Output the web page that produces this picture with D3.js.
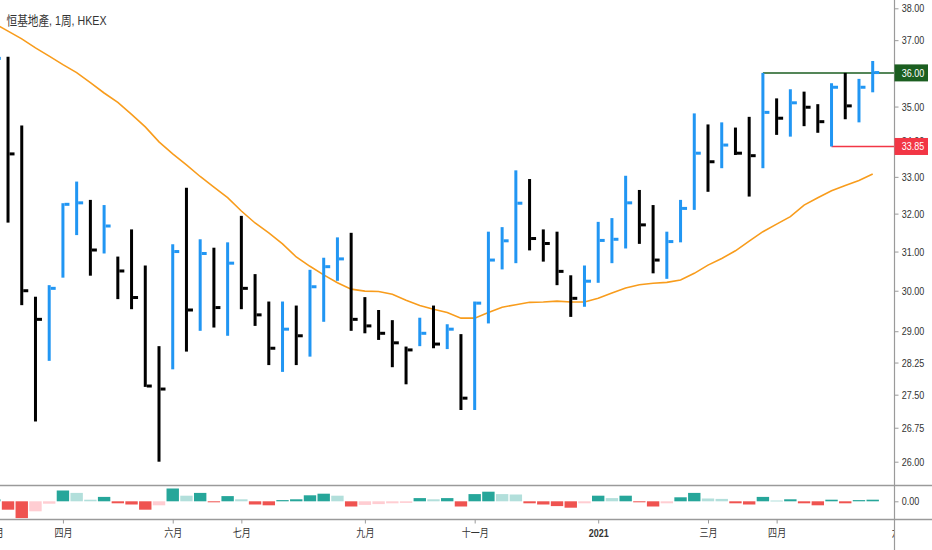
<!DOCTYPE html>
<html>
<head>
<meta charset="utf-8">
<script src="https://cdn.jsdelivr.net/npm/d3@7"></script>
<style>
  html, body { margin: 0; padding: 0; background: #fff; }
  svg { display: block; }
  text { font-family: "Liberation Sans", "Noto Sans CJK SC", sans-serif; }
</style>
</head>
<body>
<svg id="chart"></svg>
<script>
// weekly bars, index 0 = first week of March 2020
const highs = [37.30, 36.49, 34.45, 29.85, 30.14, 32.28, 32.87, 32.37, 32.23, 30.87,
  31.58, 30.64, 28.64, 31.19, 32.70, 31.32, 31.10, 31.24, 31.94, 30.42,
  29.73, 29.73, 29.63, 30.53, 30.84, 31.37, 31.49, 29.84, 29.52, 29.27,
  28.63, 29.33, 29.63, 29.17, 28.93, 29.73, 31.52, 31.64, 33.18, 32.94,
  31.58, 31.52, 30.39, 30.64, 31.78, 31.88, 33.03, 32.64, 32.23, 31.52,
  32.37, 34.80, 34.48, 34.54, 34.39, 34.70, 36.00, 35.24, 35.51, 35.44,
  35.07, 35.69, 36.00, 35.82, 36.36];
const lows = [35.60, 31.76, 29.64, 26.89, 28.29, 30.33, 31.43, 30.38, 30.95, 29.79,
  29.54, 27.68, 26.00, 28.09, 28.51, 29.01, 29.09, 28.89, 29.54, 29.13,
  28.19, 28.03, 28.19, 28.39, 29.23, 30.25, 29.01, 28.95, 28.79, 28.14,
  27.74, 28.64, 28.59, 28.57, 27.15, 27.15, 29.19, 30.54, 30.70, 31.03,
  30.74, 30.14, 29.35, 29.60, 30.20, 30.70, 31.08, 31.20, 30.44, 30.30,
  31.24, 32.10, 32.59, 33.24, 33.61, 32.46, 33.24, 34.18, 34.13, 34.43,
  34.24, 33.85, 34.63, 34.54, 35.42];
const closes = [36.44, 33.64, 30.00, 29.29, 30.06, 32.25, 32.29, 31.04, 31.67, 30.50,
  29.83, 27.70, 27.63, 31.00, 29.52, 30.95, 29.58, 30.70, 30.06, 29.40,
  28.59, 29.05, 28.89, 30.10, 30.61, 30.81, 29.29, 29.13, 28.95, 28.72,
  28.55, 28.95, 28.69, 29.05, 27.42, 29.69, 30.78, 31.28, 32.28, 31.34,
  31.21, 30.49, 29.81, 30.24, 31.29, 31.32, 32.29, 31.70, 30.78, 31.26,
  32.14, 33.66, 33.42, 33.89, 33.66, 33.59, 34.83, 34.66, 35.11, 34.98,
  34.56, 35.57, 35.02, 35.57, 36.01];
const maValues = [37.52, 37.28, 37.04, 36.76, 36.51, 36.25, 36.01, 35.71, 35.40, 35.12,
  34.77, 34.41, 33.98, 33.64, 33.33, 33.01, 32.72, 32.43, 32.07, 31.75,
  31.49, 31.20, 30.86, 30.62, 30.40, 30.20, 30.04, 29.99, 29.98, 29.91,
  29.76, 29.63, 29.54, 29.46, 29.32, 29.32, 29.46, 29.59, 29.65, 29.71,
  29.72, 29.74, 29.72, 29.72, 29.81, 29.94, 30.07, 30.15, 30.19, 30.21,
  30.27, 30.44, 30.65, 30.82, 31.02, 31.27, 31.52, 31.72, 31.92, 32.23,
  32.43, 32.62, 32.76, 32.90, 33.08];
const histValues = [0.05, -0.21, -0.42, -0.25, -0.06, 0.27, 0.21, 0.04, 0.11, -0.05,
  -0.08, -0.21, -0.10, 0.32, 0.14, 0.21, -0.02, 0.13, 0.05, -0.08,
  -0.10, 0.03, 0.05, 0.15, 0.19, 0.14, -0.13, -0.09, -0.07, -0.05,
  -0.04, 0.08, 0.05, 0.08, -0.13, 0.18, 0.24, 0.18, 0.17, -0.05,
  -0.08, -0.12, -0.16, -0.05, 0.14, 0.08, 0.14, -0.02, -0.13, -0.05,
  0.10, 0.21, 0.07, 0.06, -0.05, -0.08, 0.11, 0.02, 0.05, -0.05,
  -0.10, 0.04, -0.05, 0.03, 0.04];

const timeTickIndex = [0, 5, 13, 18, 27, 35, 44, 52, 57, 66];
const timeTickLabels = ['三月', '四月', '六月', '七月', '九月', '十一月', '2021', '三月', '四月', '六月'];
const priceTicks = [26, 26.75, 27.5, 28.25, 29, 30, 31, 32, 33, 34, 35, 36, 37, 38];
const levelPrices = [36.00, 33.85];
const levelStart = [56, 61];
const title = '恒基地產, 1周, HKEX';

const W = 932, H = 550;
const axisX = 894.5;
const mainBottom = 485.5;
const lowerBottom = 519.5;
const squeeze = 0.82; // text in the reference is horizontally narrowed

const upColor = '#2196f3', downColor = '#000000';
const levelColors = ['#1b5e20', '#f23645'];
const histColors = { up: '#26a69a', upFade: '#b2dfdb', down: '#ef5350', downFade: '#ffcdd2' };

const svg = d3.select('#chart').attr('width', W).attr('height', H);

const x = d3.scaleLinear().domain([0, 64]).range([-5.7, 872.7]);
const y = d3.scaleLog().domain([26, 38]).range([461.7, 8.3]);
const yh = d3.scaleLinear().domain([-0.5, 0.5]).range([521.3, 481.3]);

const defs = svg.append('defs');
defs.append('clipPath').attr('id', 'clipMain')
  .append('rect').attr('x', 0).attr('y', 0).attr('width', axisX).attr('height', mainBottom);
defs.append('clipPath').attr('id', 'clipLower')
  .append('rect').attr('x', 0).attr('y', mainBottom).attr('width', axisX).attr('height', lowerBottom - mainBottom);
defs.append('clipPath').attr('id', 'clipTime')
  .append('rect').attr('x', 0).attr('y', 0).attr('width', axisX - 0.5).attr('height', H);

// main pane
const main = svg.append('g').attr('clip-path', 'url(#clipMain)');

// level lines
levelPrices.forEach((p, k) => {
  main.append('line')
    .attr('x1', x(levelStart[k])).attr('x2', axisX)
    .attr('y1', y(p)).attr('y2', y(p))
    .attr('stroke', levelColors[k])
    .attr('stroke-width', 1.5);
});

// moving average
const maLine = d3.line().x((d, i) => x(i)).y(d => y(d));
main.append('path')
  .datum(maValues)
  .attr('d', maLine)
  .attr('fill', 'none')
  .attr('stroke', '#f89c1c')
  .attr('stroke-width', 1.6);

// HLC bars
const bars = main.selectAll('g.bar')
  .data(closes.map((c, i) => ({ i, c, h: highs[i], l: lows[i], up: i === 0 || c >= closes[i - 1] })))
  .enter().append('g')
  .attr('class', 'bar')
  .attr('fill', d => d.up ? upColor : downColor);

bars.append('rect')
  .attr('x', d => x(d.i) - 1.5)
  .attr('y', d => y(d.h))
  .attr('width', 3)
  .attr('height', d => y(d.l) - y(d.h));

bars.append('rect')
  .attr('x', d => x(d.i) + 1.5)
  .attr('y', d => y(d.c) - 1.5)
  .attr('width', 5)
  .attr('height', 3);

// title
svg.append('text')
  .attr('transform', `translate(6.5,25) scale(${squeeze},1)`)
  .attr('font-size', 13)
  .attr('fill', '#333')
  .text(title);

// lower pane histogram
const lower = svg.append('g').attr('clip-path', 'url(#clipLower)');
lower.selectAll('rect')
  .data(histValues)
  .enter().append('rect')
  .attr('x', (d, i) => x(i) - 6.2)
  .attr('width', 12.4)
  .attr('y', d => Math.min(yh(d), yh(0)))
  .attr('height', d => Math.max(1, Math.abs(yh(d) - yh(0))))
  .attr('fill', (d, i) => {
    const prev = i === 0 ? d : histValues[i - 1];
    if (d >= 0) return d >= prev ? histColors.up : histColors.upFade;
    return d < prev ? histColors.down : histColors.downFade;
  });

// frame lines
svg.append('line')
  .attr('x1', axisX).attr('x2', axisX).attr('y1', 0).attr('y2', H)
  .attr('stroke', '#9a9a9a').attr('stroke-width', 1.2);
[mainBottom, lowerBottom].forEach(v => {
  svg.append('line')
    .attr('x1', 0).attr('x2', W).attr('y1', v).attr('y2', v)
    .attr('stroke', '#9a9a9a').attr('stroke-width', 1.5);
});

function styleAxis(g) {
  g.select('.domain').remove();
  g.selectAll('.tick line').attr('stroke', '#9a9a9a');
  g.selectAll('.tick text').attr('fill', '#333').attr('font-size', 11)
    .attr('font-family', '"Liberation Sans", "Noto Sans CJK SC", sans-serif');
}

// price axis
const priceAxis = svg.append('g')
  .attr('transform', `translate(${axisX},0)`)
  .call(d3.axisRight(y).tickValues(priceTicks).tickFormat(d3.format('.2f')).tickSize(4).tickPadding(4.8));
styleAxis(priceAxis);
priceAxis.selectAll('.tick text').attr('transform', `scale(${squeeze},1)`);

const lowerAxis = svg.append('g')
  .attr('transform', `translate(${axisX},0)`)
  .call(d3.axisRight(yh).tickValues([0]).tickFormat(d3.format('.2f')).tickSize(4).tickPadding(4.8));
styleAxis(lowerAxis);
lowerAxis.selectAll('.tick text').attr('transform', `scale(${squeeze},1)`);

// level labels on the price axis
levelPrices.forEach((p, k) => {
  const g = svg.append('g').attr('transform', `translate(${axisX},${y(p)})`);
  g.append('rect')
    .attr('x', 0).attr('y', -8.5).attr('width', 33.5).attr('height', 17)
    .attr('fill', levelColors[k]);
  g.append('text')
    .attr('transform', `translate(7.2,0) scale(${squeeze},1)`)
    .attr('dy', '0.35em')
    .attr('font-size', 11)
    .attr('fill', '#fff')
    .text(d3.format('.2f')(p));
});

// time axis
const timeAxis = svg.append('g')
  .attr('clip-path', 'url(#clipTime)')
  .append('g')
  .attr('transform', `translate(0,${lowerBottom})`)
  .call(d3.axisBottom(x).tickValues(timeTickIndex)
    .tickFormat((d, i) => timeTickLabels[i]).tickSize(4).tickPadding(6));
styleAxis(timeAxis);
timeAxis.selectAll('.tick text')
  .attr('transform', `scale(${squeeze},1)`)
  .attr('font-weight', d => /^\d+$/.test(timeTickLabels[timeTickIndex.indexOf(d)]) ? 'bold' : null);
</script>
</body>
</html>
